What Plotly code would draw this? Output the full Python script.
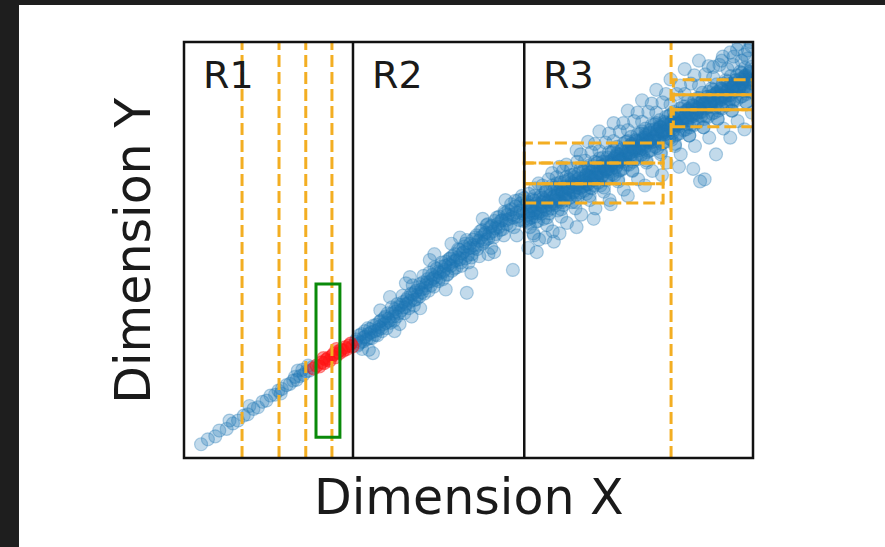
import plotly.graph_objects as go

# ---- data -------------------------------------------------------------
# Sparse points along the diagonal inside region R1
r1_pts = [(0.30, 0.33), (0.42, 0.45), (0.55, 0.52), (0.62, 0.66), (0.75, 0.70), (0.80, 0.90),
          (0.86, 0.83), (0.95, 0.90), (1.05, 1.02), (1.12, 1.05), (1.15, 1.25), (1.22, 1.18),
          (1.30, 1.22), (1.38, 1.35), (1.45, 1.38), (1.52, 1.50), (1.60, 1.52), (1.66, 1.62),
          (1.70, 1.55), (1.72, 1.66), (1.80, 1.75), (1.86, 1.78), (1.92, 1.86), (1.98, 1.88),
          (2.00, 2.10), (2.04, 1.97), (2.10, 2.00), (2.15, 2.08), (2.20, 2.10), (2.25, 2.18),
          (1.95, 1.95), (2.08, 2.12), (2.18, 2.22)]

# Points that fall inside the highlighted query window
red_pts = [(2.28, 2.15), (2.33, 2.22), (2.38, 2.20), (2.42, 2.30), (2.45, 2.40), (2.46, 2.28),
           (2.50, 2.36), (2.53, 2.40), (2.56, 2.34), (2.60, 2.45), (2.63, 2.50), (2.66, 2.42),
           (2.68, 2.62), (2.70, 2.55), (2.73, 2.52), (2.76, 2.60), (2.80, 2.58), (2.83, 2.66),
           (2.86, 2.62), (2.90, 2.70), (2.93, 2.75), (2.96, 2.68)]

# Region R2: the band widens
r2_pts = [(3.02, 2.80), (3.05, 2.70), (3.08, 2.95), (3.10, 2.78), (3.13, 2.62), (3.16, 2.90),
          (3.18, 3.05), (3.21, 2.85), (3.24, 2.98), (3.27, 3.10), (3.30, 2.88), (3.32, 2.52),
          (3.35, 3.05), (3.38, 3.20), (3.40, 2.95), (3.43, 3.15), (3.46, 3.30), (3.48, 3.05),
          (3.51, 3.22), (3.54, 3.40), (3.56, 3.12), (3.59, 3.35), (3.62, 3.87), (3.63, 3.25),
          (3.66, 3.48), (3.69, 3.30), (3.71, 3.58), (3.74, 3.40), (3.77, 3.62), (3.79, 3.22),
          (3.82, 3.55), (3.85, 3.75), (3.87, 3.48), (3.90, 3.70), (3.93, 3.85), (3.95, 3.60),
          (3.97, 4.35), (3.98, 3.78), (4.01, 3.92), (4.04, 3.66), (4.06, 3.98), (4.09, 3.82),
          (4.12, 4.10), (4.14, 3.88), (4.17, 4.05), (4.20, 4.22), (4.22, 3.95), (4.25, 4.15),
          (4.28, 4.30), (4.30, 4.02), (4.32, 4.76), (4.33, 4.25), (4.36, 4.40), (4.39, 4.12),
          (4.41, 4.35), (4.44, 4.55), (4.47, 4.25), (4.49, 4.45), (4.52, 4.60), (4.55, 4.30),
          (4.57, 4.52), (4.60, 4.72), (4.63, 4.42), (4.65, 4.65), (4.68, 4.80), (4.71, 4.50),
          (4.73, 4.72), (4.76, 4.90), (4.79, 4.58), (4.81, 4.82), (4.84, 5.00), (4.87, 4.70),
          (4.89, 4.92), (4.92, 5.08), (4.95, 4.80), (4.97, 5.24), (4.97, 3.97), (4.98, 5.02),
          (5.00, 4.70), (5.03, 5.15), (5.06, 4.90), (5.08, 5.25), (5.11, 5.05), (5.14, 5.35),
          (5.16, 5.12), (5.19, 4.85), (5.22, 5.30), (5.24, 5.48), (5.27, 5.20), (5.30, 5.42),
          (5.32, 5.60), (5.35, 5.28), (5.38, 5.55), (5.40, 5.05), (5.43, 5.45), (5.46, 5.70),
          (5.48, 5.38), (5.51, 5.62), (5.54, 5.80), (5.56, 5.48), (5.59, 5.72), (5.62, 5.35),
          (5.64, 5.88), (5.67, 5.62), (5.70, 5.95), (5.72, 5.75), (5.75, 6.10), (5.78, 4.52),
          (5.78, 5.85), (5.80, 5.55), (5.83, 6.05), (5.86, 5.80), (5.88, 6.20), (5.91, 5.95),
          (5.94, 6.30), (5.96, 5.70), (5.99, 6.08),
          # denser core and fringe of R2
          (3.03, 2.85), (3.07, 2.74), (3.12, 2.98), (3.15, 2.80), (3.19, 2.92), (3.23, 3.12),
          (3.26, 2.88), (3.29, 3.02), (3.33, 3.18), (3.36, 2.96), (3.41, 3.08), (3.44, 3.28),
          (3.47, 3.12), (3.52, 3.36), (3.55, 3.25), (3.58, 3.48), (3.61, 3.30), (3.65, 3.62),
          (3.68, 3.40), (3.72, 3.52), (3.75, 3.70), (3.78, 3.48), (3.81, 3.68), (3.84, 3.90),
          (3.88, 3.62), (3.91, 3.80), (3.94, 3.72), (3.99, 3.95), (4.02, 4.15), (4.05, 3.80),
          (4.08, 4.02), (4.11, 3.92), (4.15, 4.18), (4.18, 3.98), (4.21, 4.38), (4.24, 4.08),
          (4.27, 4.22), (4.31, 4.45), (4.34, 4.15), (4.38, 4.32), (4.40, 4.58), (4.43, 4.28),
          (4.46, 4.48), (4.50, 4.35), (4.53, 4.70), (4.56, 4.48), (4.59, 4.62), (4.62, 4.40),
          (4.66, 4.78), (4.69, 4.62), (4.72, 4.85), (4.75, 4.55), (4.78, 4.75), (4.82, 5.02),
          (4.85, 4.78), (4.88, 4.62), (4.91, 4.95), (4.94, 5.15), (4.99, 4.88), (5.02, 5.05),
          (5.05, 4.82), (5.09, 5.12), (5.12, 5.30), (5.15, 5.02), (5.18, 5.22), (5.21, 5.45),
          (5.25, 5.15), (5.28, 5.38), (5.31, 5.25), (5.34, 5.62), (5.37, 5.40), (5.41, 5.58),
          (5.44, 5.30), (5.47, 5.52), (5.50, 5.78), (5.53, 5.55), (5.57, 5.70), (5.60, 5.50),
          (5.63, 5.92), (5.66, 5.72), (5.69, 5.85), (5.73, 5.60), (5.76, 5.98), (5.79, 5.78),
          (5.82, 6.18), (5.85, 5.90), (5.89, 5.72), (5.92, 6.12), (5.95, 5.88), (5.98, 6.25),
          (3.45, 3.55), (3.70, 3.05), (3.90, 4.20), (4.15, 3.60), (4.40, 4.90), (4.60, 4.05),
          (4.85, 5.30), (5.05, 4.45), (5.25, 5.75), (5.45, 4.95), (5.65, 6.20), (5.85, 5.35),
          (4.00, 3.40), (4.70, 5.15), (5.35, 4.90), (3.25, 2.60)]

# Region R3: dense, wide band
r3_pts = [
    (6.01, 5.70), (6.03, 6.10), (6.05, 5.85), (6.06, 6.35), (6.08, 5.55), (6.10, 6.00),
    (6.11, 5.78), (6.13, 6.22), (6.14, 5.40), (6.16, 5.95), (6.17, 6.48), (6.19, 5.68),
    (6.20, 6.12), (6.22, 5.88), (6.23, 6.60), (6.24, 5.25), (6.12, 6.05), (6.18, 5.90),
    (6.26, 5.92), (6.27, 6.30), (6.29, 6.05), (6.30, 6.55), (6.32, 5.75), (6.33, 6.20),
    (6.35, 5.98), (6.36, 6.42), (6.38, 5.60), (6.39, 6.15), (6.41, 6.70), (6.42, 5.88),
    (6.44, 6.32), (6.45, 6.08), (6.47, 6.85), (6.48, 5.45), (6.37, 6.25), (6.43, 6.10),
    (6.51, 6.12), (6.52, 6.50), (6.54, 6.25), (6.55, 6.75), (6.57, 5.95), (6.58, 6.40),
    (6.60, 6.18), (6.61, 6.62), (6.63, 5.80), (6.64, 6.35), (6.66, 6.90), (6.67, 6.08),
    (6.69, 6.52), (6.70, 6.28), (6.72, 7.05), (6.73, 5.65), (6.62, 6.45), (6.68, 6.30),
    (6.76, 6.32), (6.77, 6.70), (6.79, 6.45), (6.80, 6.95), (6.82, 6.15), (6.83, 6.60),
    (6.85, 6.38), (6.86, 6.82), (6.88, 6.00), (6.89, 6.55), (6.91, 7.12), (6.92, 6.28),
    (6.94, 6.72), (6.95, 6.48), (6.97, 7.30), (6.98, 5.85), (6.87, 6.65), (6.93, 6.50),
    (7.01, 6.52), (7.02, 6.90), (7.04, 6.65), (7.05, 7.15), (7.07, 6.35), (7.08, 6.80),
    (7.10, 6.58), (7.11, 7.02), (7.13, 6.20), (7.14, 6.75), (7.16, 7.35), (7.17, 6.48),
    (7.19, 6.92), (7.20, 6.68), (7.22, 7.55), (7.23, 6.00), (7.12, 6.85), (7.18, 6.70),
    (7.26, 6.72), (7.27, 7.10), (7.29, 6.85), (7.30, 7.38), (7.32, 6.55), (7.33, 7.00),
    (7.35, 6.78), (7.36, 7.22), (7.38, 6.40), (7.39, 6.95), (7.41, 7.58), (7.42, 6.68),
    (7.44, 7.12), (7.45, 6.88), (7.47, 7.80), (7.48, 6.20), (7.37, 7.05), (7.43, 6.92),
    (7.51, 6.95), (7.52, 7.35), (7.54, 7.10), (7.55, 7.62), (7.57, 6.80), (7.58, 7.25),
    (7.60, 7.02), (7.61, 7.48), (7.63, 6.65), (7.64, 7.20), (7.66, 7.85), (7.67, 6.92),
    (7.69, 7.38), (7.70, 7.12), (7.72, 8.05), (7.73, 6.45), (7.62, 7.30), (7.68, 7.18),
    (7.76, 7.20), (7.77, 7.60), (7.79, 7.35), (7.80, 7.88), (7.82, 7.05), (7.83, 7.50),
    (7.85, 7.28), (7.86, 7.72), (7.88, 6.90), (7.89, 7.45), (7.91, 8.10), (7.92, 7.18),
    (7.94, 7.62), (7.95, 7.38), (7.97, 8.30), (7.98, 6.70), (7.87, 7.55), (7.93, 7.42),
    (8.01, 7.40), (8.02, 7.80), (8.04, 7.55), (8.05, 8.08), (8.07, 7.25), (8.08, 7.70),
    (8.10, 7.48), (8.11, 7.92), (8.13, 7.10), (8.14, 7.65), (8.16, 8.32), (8.17, 7.38),
    (8.19, 7.82), (8.20, 7.58), (8.22, 8.52), (8.23, 6.90), (8.12, 7.75), (8.18, 7.62),
    (8.26, 7.60), (8.27, 8.02), (8.29, 7.75), (8.30, 8.30), (8.32, 7.45), (8.33, 7.90),
    (8.35, 7.68), (8.36, 8.12), (8.38, 7.30), (8.39, 7.85), (8.41, 8.55), (8.42, 7.58),
    (8.44, 8.02), (8.45, 7.78), (8.47, 8.75), (8.48, 7.10), (8.37, 7.95), (8.43, 7.82),
    (8.51, 7.80), (8.52, 8.22), (8.54, 7.95), (8.55, 8.50), (8.57, 7.65), (8.58, 8.10),
    (8.60, 7.88), (8.61, 8.32), (8.63, 7.50), (8.64, 8.05), (8.66, 8.75), (8.67, 7.78),
    (8.69, 8.22), (8.70, 7.98), (8.72, 8.95), (8.73, 7.30), (8.62, 8.15), (8.68, 8.02),
    (8.76, 8.05), (8.77, 8.45), (8.79, 8.20), (8.80, 8.75), (8.82, 7.90), (8.83, 8.35),
    (8.85, 8.12), (8.86, 8.58), (8.88, 7.75), (8.89, 8.30), (8.91, 9.00), (8.92, 8.02),
    (8.94, 8.48), (8.95, 8.22), (8.97, 9.20), (8.98, 7.50), (8.87, 8.40), (8.93, 8.28),
    (9.01, 8.25), (9.02, 8.65), (9.04, 8.40), (9.05, 8.95), (9.07, 6.65), (9.08, 8.55),
    (9.10, 8.32), (9.11, 8.78), (9.13, 7.95), (9.14, 8.50), (9.16, 9.22), (9.17, 8.22),
    (9.19, 8.68), (9.20, 8.42), (9.22, 9.42), (9.23, 7.70), (9.12, 8.60), (9.18, 8.48),
    (9.26, 8.45), (9.27, 8.88), (9.29, 8.60), (9.30, 9.15), (9.32, 8.30), (9.33, 8.75),
    (9.35, 8.52), (9.36, 8.98), (9.38, 8.15), (9.39, 8.70), (9.41, 9.45), (9.42, 8.42),
    (9.44, 8.88), (9.45, 8.62), (9.47, 9.65), (9.48, 7.92), (9.37, 8.80), (9.43, 8.68),
    (9.51, 8.65), (9.52, 9.08), (9.54, 8.80), (9.55, 9.35), (9.57, 8.50), (9.58, 8.95),
    (9.60, 8.72), (9.61, 9.18), (9.63, 8.35), (9.64, 8.90), (9.66, 9.65), (9.67, 8.62),
    (9.69, 9.08), (9.70, 8.82), (9.72, 9.82), (9.73, 8.10), (9.62, 9.00), (9.68, 8.88),
    (9.76, 8.85), (9.77, 9.28), (9.79, 9.00), (9.80, 9.55), (9.82, 8.70), (9.83, 9.15),
    (9.85, 8.92), (9.86, 9.38), (9.88, 8.55), (9.89, 9.10), (9.91, 9.80), (9.92, 8.82),
    (9.94, 9.28), (9.95, 9.02), (9.97, 9.90), (9.98, 8.30), (9.87, 9.20), (9.93, 9.08),
    # denser core of R3
    (6.02, 5.90), (6.04, 6.15), (6.07, 5.75), (6.09, 6.05), (6.11, 5.95), (6.15, 6.18),
    (6.18, 5.80), (6.21, 6.02), (6.24, 6.25), (6.06, 5.65), (6.13, 5.88), (6.22, 5.70),
    (6.16, 6.30), (6.26, 6.10), (6.28, 5.88), (6.31, 6.25), (6.34, 6.05), (6.36, 6.40),
    (6.39, 5.95), (6.41, 6.18), (6.44, 6.45), (6.46, 6.00), (6.49, 6.28), (6.30, 6.15),
    (6.38, 5.78), (6.47, 6.55), (6.51, 6.30), (6.53, 6.08), (6.56, 6.45), (6.59, 6.22),
    (6.61, 6.58), (6.64, 6.15), (6.66, 6.40), (6.69, 6.65), (6.71, 6.20), (6.74, 6.48),
    (6.55, 6.60), (6.63, 5.98), (6.72, 6.75), (6.76, 6.48), (6.78, 6.25), (6.81, 6.62),
    (6.84, 6.40), (6.86, 6.75), (6.89, 6.32), (6.91, 6.58), (6.94, 6.85), (6.96, 6.38),
    (6.99, 6.65), (6.80, 6.80), (6.88, 6.15), (6.97, 6.95), (7.01, 6.65), (7.03, 6.42),
    (7.06, 6.80), (7.09, 6.58), (7.11, 6.92), (7.14, 6.50), (7.16, 6.75), (7.19, 7.02),
    (7.21, 6.55), (7.24, 6.82), (7.05, 6.98), (7.13, 6.30), (7.22, 7.12), (7.26, 6.85),
    (7.28, 6.62), (7.31, 7.00), (7.34, 6.78), (7.36, 7.12), (7.39, 6.70), (7.41, 6.95),
    (7.44, 7.22), (7.46, 6.75), (7.49, 7.02), (7.30, 7.20), (7.38, 6.50), (7.47, 7.35),
    (7.51, 7.05), (7.53, 6.82), (7.56, 7.20), (7.59, 6.98), (7.61, 7.32), (7.64, 6.90),
    (7.66, 7.15), (7.69, 7.42), (7.71, 6.95), (7.74, 7.22), (7.55, 7.40), (7.63, 6.70),
    (7.72, 7.55), (7.76, 7.28), (7.78, 7.05), (7.81, 7.42), (7.84, 7.20), (7.86, 7.55),
    (7.89, 7.12), (7.91, 7.38), (7.94, 7.65), (7.96, 7.18), (7.99, 7.45), (7.80, 7.62),
    (7.88, 6.92), (7.97, 7.78), (8.01, 7.50), (8.03, 7.28), (8.06, 7.65), (8.09, 7.42),
    (8.11, 7.78), (8.14, 7.35), (8.16, 7.60), (8.19, 7.88), (8.21, 7.40), (8.24, 7.68),
    (8.05, 7.85), (8.13, 7.15), (8.22, 8.00), (8.26, 7.70), (8.28, 7.48), (8.31, 7.85),
    (8.34, 7.62), (8.36, 7.98), (8.39, 7.55), (8.41, 7.80), (8.44, 8.08), (8.46, 7.60),
    (8.49, 7.88), (8.30, 8.05), (8.38, 7.35), (8.47, 8.20), (8.51, 7.90), (8.53, 7.68),
    (8.56, 8.05), (8.59, 7.82), (8.61, 8.18), (8.64, 7.75), (8.66, 8.00), (8.69, 8.28),
    (8.71, 7.80), (8.74, 8.08), (8.55, 8.25), (8.63, 7.55), (8.72, 8.40), (8.76, 8.10),
    (8.78, 7.88), (8.81, 8.25), (8.84, 8.02), (8.86, 8.38), (8.89, 7.95), (8.91, 8.20),
    (8.94, 8.48), (8.96, 8.00), (8.99, 8.28), (8.80, 8.45), (8.88, 7.75), (8.97, 8.60),
    (9.01, 8.30), (9.03, 8.08), (9.06, 8.45), (9.09, 8.22), (9.11, 8.58), (9.14, 8.15),
    (9.16, 8.40), (9.19, 8.68), (9.21, 8.20), (9.24, 8.48), (9.05, 8.65), (9.13, 7.95),
    (9.22, 8.80), (9.26, 8.50), (9.28, 8.28), (9.31, 8.65), (9.34, 8.42), (9.36, 8.78),
    (9.39, 8.35), (9.41, 8.60), (9.44, 8.88), (9.46, 8.40), (9.49, 8.68), (9.30, 8.85),
    (9.38, 8.15), (9.47, 9.00), (9.51, 8.70), (9.53, 8.48), (9.56, 8.85), (9.59, 8.62),
    (9.61, 8.98), (9.64, 8.55), (9.66, 8.80), (9.69, 9.08), (9.71, 8.60), (9.74, 8.88),
    (9.55, 9.05), (9.63, 8.35), (9.72, 9.20), (9.76, 8.90), (9.78, 8.68), (9.81, 9.05),
    (9.84, 8.82), (9.86, 9.18), (9.89, 8.75), (9.91, 9.00), (9.94, 9.28), (9.96, 8.80),
    (9.99, 9.08), (9.80, 9.25), (9.88, 8.55), (9.97, 9.40),
    (7.02, 6.72), (7.07, 6.60), (7.12, 6.78), (7.17, 6.88), (7.21, 6.70), (7.27, 6.95),
    (7.32, 6.85), (7.37, 7.02), (7.42, 6.90), (7.46, 7.10), (7.52, 7.15), (7.57, 7.05),
    (7.62, 7.25), (7.67, 7.30), (7.71, 7.18), (7.77, 7.40), (7.82, 7.32), (7.87, 7.50),
    (7.92, 7.45), (7.96, 7.62), (8.02, 7.62), (8.07, 7.52), (8.12, 7.70), (8.17, 7.80),
    (8.21, 7.66), (8.27, 7.90), (8.32, 7.78), (8.37, 7.95), (8.42, 7.88), (8.46, 8.05),
    (8.52, 8.02), (8.57, 7.92), (8.62, 8.10), (8.67, 8.18), (8.71, 8.05), (8.77, 8.30),
    (8.82, 8.20), (8.87, 8.35), (8.92, 8.25), (8.96, 8.45), (9.02, 8.42), (9.07, 8.32),
    (9.12, 8.50), (9.17, 8.58), (9.21, 8.45), (9.27, 8.70), (9.32, 8.60), (9.37, 8.75),
    (9.42, 8.65), (9.46, 8.85), (9.52, 8.82), (9.57, 8.72), (9.62, 8.90), (9.67, 8.98),
    (9.71, 8.85), (9.77, 9.10), (9.82, 9.00), (9.87, 9.15), (9.92, 9.05), (9.96, 9.25),
    (7.05, 6.55), (7.25, 6.75), (7.45, 6.95), (7.65, 7.12), (7.85, 7.35), (8.05, 7.45),
    (8.25, 7.62), (8.45, 7.85), (8.65, 8.02), (8.85, 8.18), (9.05, 8.38), (9.25, 8.55),
    (9.45, 8.72), (9.65, 8.92), (9.85, 9.10), (6.55, 6.30), (6.65, 6.42), (6.75, 6.50),
    (6.85, 6.58), (6.95, 6.62), (6.52, 6.18), (6.70, 6.35), (6.90, 6.50),
    # fringe of R3
    (9.60, 9.75), (9.75, 9.95), (9.85, 9.70), (9.95, 10.0), (9.45, 9.55), (9.30, 9.40),
    (9.90, 9.60), (9.65, 9.45), (6.05, 5.05), (6.20, 4.95), (6.35, 5.30), (6.50, 5.20),
    (6.15, 5.35), (6.60, 7.00), (6.90, 7.40), (7.10, 7.60), (7.30, 7.85), (7.55, 8.05),
    (7.80, 8.35), (8.05, 8.60), (8.30, 8.85), (8.55, 9.10), (8.80, 9.35), (9.05, 9.55),
    (9.15, 6.70), (8.95, 6.95), (9.35, 7.30), (9.60, 7.70), (9.85, 7.90), (8.70, 7.00),
    (8.40, 6.80), (8.10, 6.55), (7.80, 6.30), (7.50, 6.10), (7.20, 5.75), (6.90, 5.55),
    (6.60, 5.40)]

region_names = ["R1", "R2", "R3"]
region_edges = [0.0, 2.97, 5.98]           # left edge of each region
r1_splits = [1.02, 1.67, 2.14, 2.60]        # dashed splits inside R1
r3_split = 8.56                              # dashed split inside R3
r3_left_x = [5.98, 8.42]                     # left sub-cells of R3
r3_left_y = [6.13, 6.59, 7.09, 7.57]
r3_right_x = [8.60, 10.0]                    # right sub-cells of R3
r3_right_y = [7.96, 8.37, 8.73, 9.09]
query_x = [2.32, 2.74]                       # highlighted query window
query_y = [0.50, 4.18]

BLUE_FILL = "rgba(31,119,180,0.27)"
BLUE_EDGE = "rgba(31,119,180,0.33)"
RED_FILL = "rgba(255,20,20,0.42)"
RED_EDGE = "rgba(255,20,20,0.48)"
ORANGE = "#f3ae22"
DASH = "12px,5px"
FONT = "DejaVu Sans"

# ---- figure -----------------------------------------------------------
fig = go.Figure()

blue_pts = r1_pts + r2_pts + r3_pts
fig.add_trace(go.Scatter(
    x=[p[0] for p in blue_pts], y=[p[1] for p in blue_pts], mode="markers",
    marker=dict(size=13, color=BLUE_FILL, line=dict(color=BLUE_EDGE, width=1.2)),
    hoverinfo="skip", showlegend=False))
fig.add_trace(go.Scatter(
    x=[p[0] for p in red_pts], y=[p[1] for p in red_pts], mode="markers",
    marker=dict(size=13, color=RED_FILL, line=dict(color=RED_EDGE, width=1.2)),
    hoverinfo="skip", showlegend=False))

shapes = []
# dashed split lines spanning the full height
for xv in r1_splits + [r3_split]:
    shapes.append(dict(type="line", xref="x", yref="paper", x0=xv, x1=xv, y0=0, y1=1,
                       line=dict(color=ORANGE, width=3, dash=DASH)))
# dashed sub-cells in R3
for xs, ys in ((r3_left_x, r3_left_y), (r3_right_x, r3_right_y)):
    for y0, y1 in zip(ys[:-1], ys[1:]):
        shapes.append(dict(type="rect", xref="x", yref="y", x0=xs[0], x1=xs[1], y0=y0, y1=y1,
                           line=dict(color=ORANGE, width=3, dash=DASH)))
# solid region borders
for xv in region_edges[1:]:
    shapes.append(dict(type="line", xref="x", yref="paper", x0=xv, x1=xv, y0=0, y1=1,
                       line=dict(color="#111111", width=2.5)))
# query window
shapes.append(dict(type="rect", xref="x", yref="y", x0=query_x[0], x1=query_x[1],
                   y0=query_y[0], y1=query_y[1], line=dict(color="#0a8a0a", width=3)))
# plot frame
shapes.append(dict(type="rect", xref="paper", yref="paper", x0=0, x1=1, y0=0, y1=1,
                   line=dict(color="#111111", width=2.5)))
# page background panel
shapes.append(dict(type="rect", xref="paper", yref="paper", layer="below",
                   x0=-0.29, x1=1.24, y0=-0.22, y1=1.089,
                   fillcolor="white", line=dict(width=0)))

annotations = []
for name, xe in zip(region_names, region_edges):
    annotations.append(dict(x=xe + 0.30, y=1.0, xref="x", yref="paper", text=name,
                            showarrow=False, xanchor="left", yanchor="top", yshift=-9,
                            font=dict(family=FONT, size=38, color="#1a1a1a")))
annotations.append(dict(x=0.5, y=-0.094, xref="paper", yref="paper", text="Dimension X",
                        showarrow=False, xanchor="center", yanchor="middle",
                        font=dict(family=FONT, size=49, color="#1a1a1a")))
annotations.append(dict(x=-0.09, y=0.5, xref="paper", yref="paper", text="Dimension Y",
                        showarrow=False, xanchor="center", yanchor="middle", textangle=-90,
                        font=dict(family=FONT, size=49, color="#1a1a1a")))

fig.update_layout(
    width=885, height=547,
    margin=dict(l=184, r=132, t=42, b=89),
    paper_bgcolor="#1e1e1e", plot_bgcolor="white",
    xaxis=dict(range=[0, 10], showgrid=False, zeroline=False, showticklabels=False,
               ticks="", showline=False),
    yaxis=dict(range=[0, 10], showgrid=False, zeroline=False, showticklabels=False,
               ticks="", showline=False),
    shapes=shapes, annotations=annotations,
)

fig.write_html("out.html")
